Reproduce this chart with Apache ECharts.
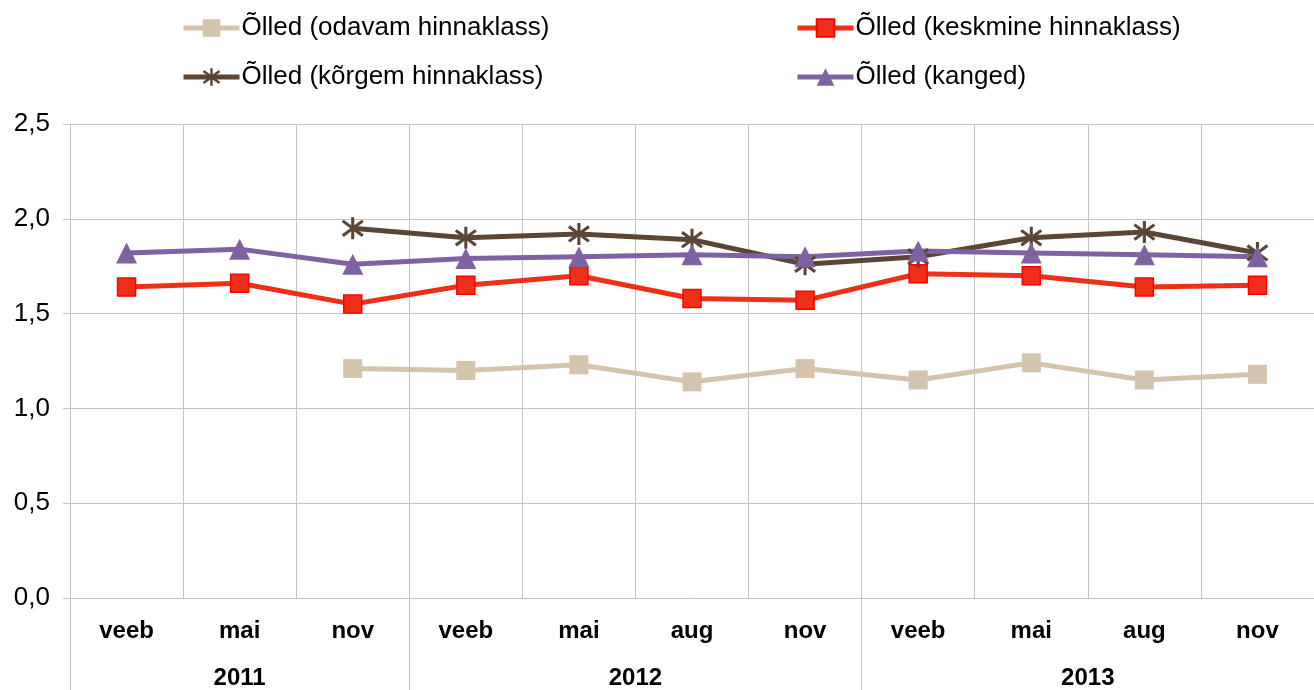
<!DOCTYPE html>
<html>
<head>
<meta charset="utf-8">
<script src="https://cdn.jsdelivr.net/npm/echarts@6/dist/echarts.min.js"></script>
<style>
html, body { margin: 0; padding: 0; background: #fff; }
#main { width: 1314px; height: 690px; }
</style>
</head>
<body>
<div id="main"></div>
<script>
// andmed
var months = ['veeb', 'mai', 'nov', 'veeb', 'mai', 'aug', 'nov', 'veeb', 'mai', 'aug', 'nov'];
var years = ['2011', '2012', '2013'];
var yearCenters = [1.5, 5, 9];     // aasta sildi asukoht kategooriate skaalal
var yearBounds = [0, 3, 7, 11];    // aastate eraldusjooned

var odavam   = ['-', '-', 1.21, 1.20, 1.23, 1.14, 1.21, 1.15, 1.24, 1.15, 1.18];
var keskmine = [1.64, 1.66, 1.55, 1.65, 1.70, 1.58, 1.57, 1.71, 1.70, 1.64, 1.65];
var korgem   = ['-', '-', 1.95, 1.90, 1.92, 1.89, 1.76, 1.80, 1.90, 1.93, 1.82];
var kanged   = [1.82, 1.84, 1.76, 1.79, 1.80, 1.81, 1.80, 1.83, 1.82, 1.81, 1.80];

var names = ['Õlled (odavam hinnaklass)', 'Õlled (keskmine hinnaklass)', 'Õlled (kõrgem hinnaklass)', 'Õlled (kanged)'];

var chart = echarts.init(document.getElementById('main'));

var star = 'path://M10.5,0 L13.5,0 L13.5,24 L10.5,24 Z M1.3,5.2 L3.2,2.6 L22.7,18.8 L20.8,21.4 Z M20.8,2.6 L22.7,5.2 L3.2,21.4 L1.3,18.8 Z';
var fontFam = '"Liberation Sans", Arial, sans-serif';
var gridColor = '#c3c3c3';

function legendItem(name, left, top) {
    return {
        data: [name],
        left: left,
        top: top,
        itemWidth: 56,
        itemHeight: 22,
        itemGap: 0,
        padding: 0,
        lineStyle: { width: 5 },
        textStyle: { fontFamily: fontFam, fontSize: 26, color: '#000', padding: [0, 0, 0, -3] }
    };
}

var option = {
    animation: false,
    backgroundColor: '#fff',
    legend: [
        legendItem(names[0], 181, 15),
        legendItem(names[1], 795, 15),
        legendItem(names[2], 181, 64),
        legendItem(names[3], 795, 64)
    ],
    grid: { left: 70, right: 0, top: 124, bottom: 92 },
    xAxis: [{
        type: 'category',
        data: months,
        boundaryGap: true,
        axisLine: { lineStyle: { color: gridColor, width: 1 } },
        axisTick: { show: false },
        axisLabel: { color: '#000', fontFamily: fontFam, fontSize: 24, fontWeight: 'bold', margin: 21 },
        splitLine: { show: true, lineStyle: { color: gridColor, width: 1 } }
    }, {
        type: 'value',
        min: 0,
        max: 11,
        position: 'bottom',
        axisLine: { show: false },
        splitLine: { show: false },
        axisTick: { show: true, customValues: yearBounds, length: 92, lineStyle: { color: gridColor, width: 1 } },
        axisLabel: {
            show: true,
            customValues: yearCenters,
            margin: 68,
            color: '#000',
            fontFamily: fontFam,
            fontSize: 24,
            fontWeight: 'bold',
            formatter: function (v) {
                var i = yearCenters.indexOf(v);
                return i >= 0 ? years[i] : '';
            }
        }
    }],
    yAxis: {
        type: 'value',
        min: 0,
        max: 2.5,
        interval: 0.5,
        axisLine: { show: true, lineStyle: { color: gridColor, width: 1 } },
        axisTick: { show: true, length: 7, lineStyle: { color: gridColor } },
        axisLabel: {
            color: '#000', fontFamily: fontFam, fontSize: 26, margin: 20,
            formatter: function (v) { return v.toFixed(1).replace('.', ','); }
        },
        splitLine: { show: true, lineStyle: { color: gridColor, width: 1 } }
    },
    series: [{
        name: names[0],
        type: 'line',
        data: odavam,
        symbol: 'rect',
        symbolSize: 19,
        lineStyle: { color: '#d5c4ad', width: 5 },
        itemStyle: { color: '#d5c4ad', borderColor: '#d5c4ad', borderWidth: 0, opacity: 1 }
    }, {
        name: names[1],
        type: 'line',
        data: keskmine,
        symbol: 'rect',
        symbolSize: 18,
        lineStyle: { color: '#ef3019', width: 5 },
        itemStyle: { color: '#ef3019', borderColor: '#ff0000', borderWidth: 1.5, opacity: 1 }
    }, {
        name: names[2],
        type: 'line',
        data: korgem,
        symbol: star,
        symbolSize: 22,
        lineStyle: { color: '#5b4636', width: 5 },
        itemStyle: { color: '#5b4636', borderColor: '#5b4636', borderWidth: 0, opacity: 1 }
    }, {
        name: names[3],
        type: 'line',
        data: kanged,
        symbol: 'triangle',
        symbolSize: 21,
        lineStyle: { color: '#7f62a1', width: 5 },
        itemStyle: { color: '#7f62a1', borderColor: '#7f62a1', borderWidth: 0, opacity: 1 }
    }]
};

chart.setOption(option);
</script>
</body>
</html>
